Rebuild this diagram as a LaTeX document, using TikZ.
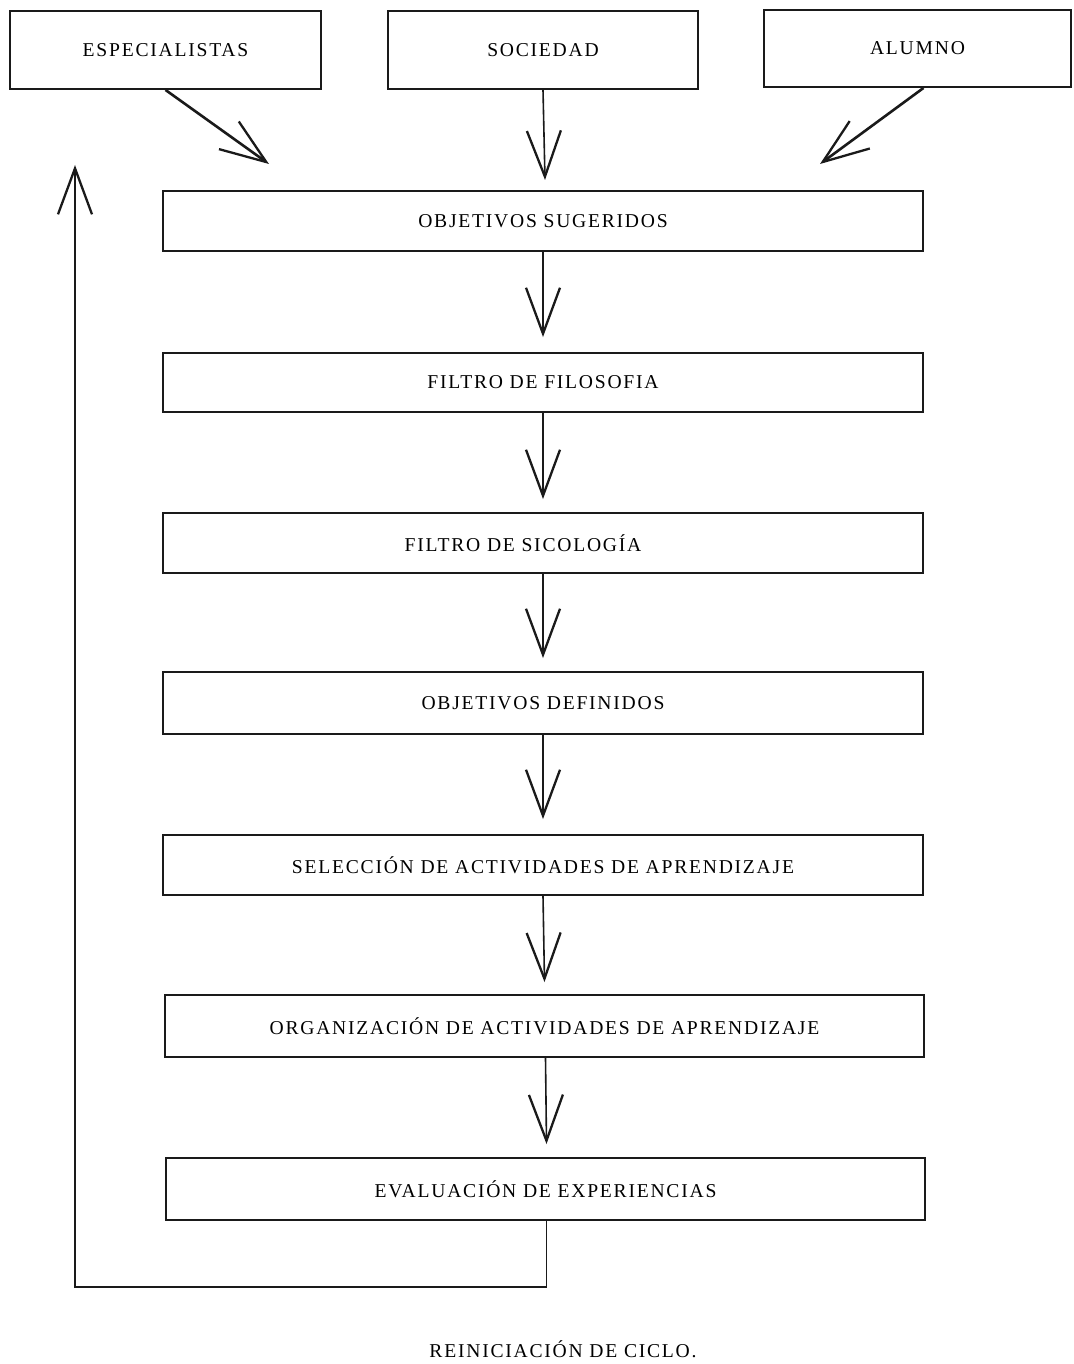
\documentclass[tikz,border=0pt]{standalone}
\usepackage{fontspec}
\setmainfont{Liberation Serif}[LetterSpace=9]
\usetikzlibrary{arrows.meta}
\definecolor{ink}{HTML}{1A1A1A}
\tikzset{
  box/.style={draw=ink, line width=1.9pt, inner sep=0pt, text=black,
    font=\fontsize{19.6}{23}\selectfont},
  topbox/.style={box, minimum width=310pt, minimum height=78pt},
  mainbox/.style={box, minimum width=760pt, minimum height=60pt},
  vee/.style={-{Straight Barb[length=46pt,width=34pt,line width=2.3pt]}},
  shaft/.style={draw=ink, line width=1.6pt, vee},
  diag/.style={draw=ink, line width=2.6pt, vee},
}
\begin{document}
\begin{tikzpicture}[x=1pt,y=-1pt]
\useasboundingbox (0,0) rectangle (1073,1364);
% top sources
\node[topbox, minimum width=311pt] (esp) at (165.5,50) {ESPECIALISTAS};
\node[topbox] (soc) at (543,50) {SOCIEDAD};
\node[topbox, minimum width=307pt, minimum height=77pt] (alu) at (917.5,48.5) {ALUMNO};
% main chain
\node[mainbox] (b1) at (543,221) {OBJETIVOS SUGERIDOS};
\node[mainbox, minimum height=59pt] (b2) at (543,382.5) {FILTRO DE FILOSOFIA};
\node[mainbox] (b3) at (543,543) {\kern-40pt FILTRO DE SICOLOGÍA};
\node[mainbox, minimum height=62pt] (b4) at (543,703) {OBJETIVOS DEFINIDOS};
\node[mainbox] (b5) at (543,865) {SELECCIÓN DE ACTIVIDADES DE APRENDIZAJE};
\node[mainbox, minimum width=759pt, minimum height=62pt] (b6) at (544.5,1026) {ORGANIZACIÓN DE ACTIVIDADES DE APRENDIZAJE};
\node[mainbox, minimum width=759pt, minimum height=62pt] (b7) at (545.5,1189) {EVALUACIÓN DE EXPERIENCIAS};
\node[font=\fontsize{19.6}{23}\selectfont, inner sep=0pt] (rein) at (563,1349) {REINICIACIÓN DE CICLO.};
% arrow tips of the three inputs
\coordinate (tipE) at (269,164);
\coordinate (tipS) at (545,180);
\coordinate (tipA) at (820,164);
\draw[diag] (esp.south) -- (tipE);
\draw[shaft] (soc.south) -- (tipS);
\draw[diag] ([xshift=6pt]alu.south) -- (tipA);
% chain arrows
\draw[shaft] (b1.south) -- ([yshift=15pt]b2.north);
\draw[shaft] (b2.south) -- ([yshift=13pt]b3.north);
\draw[shaft] (b3.south) -- ([yshift=13pt]b4.north);
\draw[shaft] (b4.south) -- ([yshift=15pt]b5.north);
\draw[shaft] (b5.south) -- ([yshift=12pt]b6.north);
\draw[shaft] ([xshift=1pt]b6.south) -- ([xshift=1pt,yshift=13pt]b7.north);
% return loop
\coordinate (rc) at (75,1287);
\coordinate (rtip) at (75,165);
\draw[draw=ink, line width=1.9pt, vee] ([xshift=1pt]b7.south) |- (rc) -- (rtip);
\end{tikzpicture}
\end{document}
